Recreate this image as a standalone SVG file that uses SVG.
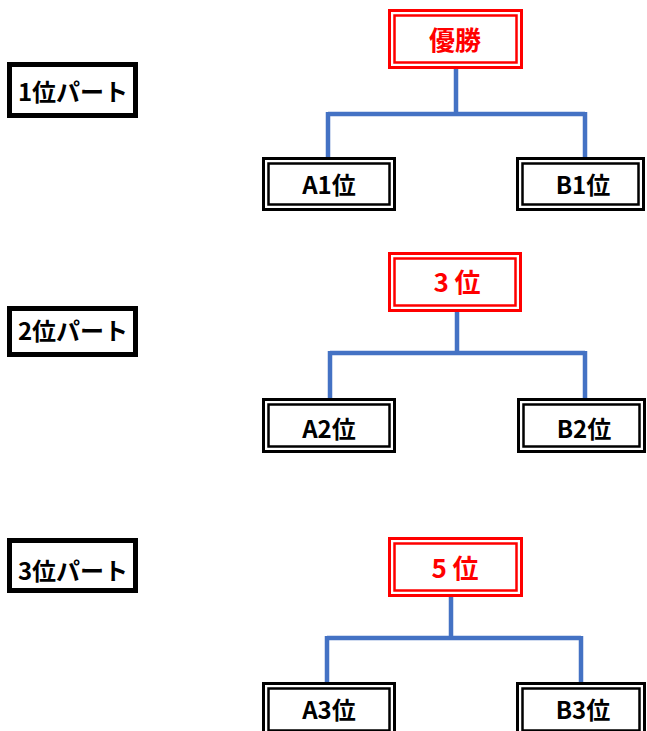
<svg xmlns="http://www.w3.org/2000/svg" width="647" height="731" viewBox="0 0 647 731">
<style>
text{font-family:"Noto Sans CJK JP","Noto Sans",sans-serif;font-weight:bold;text-anchor:middle}
.lbl rect{fill:#fff;stroke:#000;stroke-width:5}
.lbl text{font-size:24px;fill:#000}
.red rect{fill:none;stroke:#ff0000}
.red .o{stroke-width:3;fill:#fff}
.red .i{stroke-width:2.5}
.red text{font-size:26px;fill:#ff0000}
.blk rect{fill:none;stroke:#000}
.blk .o{stroke-width:3;fill:#fff}
.blk .i{stroke-width:2.5}
.blk text{font-size:24px;fill:#000}
#connectors path{fill:none;stroke:#4472c4;stroke-width:4.5}
</style>
<rect width="647" height="731" fill="#fff"/>
<g id="connectors">
<path d="M456,69 V114 M328,114 H585 M328,112 V157 M585,112 V157"/>
<path d="M457,312 V353 M330,353 H585 M330,351 V398 M585,351 V398"/>
<path d="M451,597 V638 M327,638 H581 M327,636 V682 M581,636 V682"/>
</g>
<g id="label1" class="lbl"><rect x="9.5" y="64.5" width="126" height="51"/><text x="73" y="101">1位パート</text></g>
<g id="label2" class="lbl"><rect x="9.5" y="308.5" width="126" height="46"/><text x="73" y="340">2位パート</text></g>
<g id="label3" class="lbl"><rect x="9.5" y="540.5" width="126" height="50"/><text x="73" y="580">3位パート</text></g>

<g id="win1" class="red"><rect class="o" x="389.5" y="10.5" width="132" height="57"/><rect class="i" x="394.5" y="15.5" width="122" height="47"/><text x="455" y="50">優勝</text></g>
<g id="win2" class="red"><rect class="o" x="389.5" y="253.5" width="131" height="57"/><rect class="i" x="394.5" y="258.5" width="121" height="47"/><text x="457" y="292" xml:space="preserve">3 位</text></g>
<g id="win3" class="red"><rect class="o" x="389.5" y="538.5" width="132" height="57"/><rect class="i" x="394.5" y="543.5" width="122" height="47"/><text x="455" y="578" xml:space="preserve">5 位</text></g>

<g id="a1" class="blk"><rect class="o" x="263.5" y="158.5" width="131" height="51"/><rect class="i" x="268.5" y="163.5" width="121" height="41"/><text x="329" y="194">A1位</text></g>
<g id="b1" class="blk"><rect class="o" x="517.5" y="158.5" width="126" height="51"/><rect class="i" x="522.5" y="163.5" width="116" height="41"/><text x="583" y="194">B1位</text></g>
<g id="a2" class="blk"><rect class="o" x="263.5" y="399.5" width="131" height="52"/><rect class="i" x="268.5" y="404.5" width="121" height="42"/><text x="329" y="438">A2位</text></g>
<g id="b2" class="blk"><rect class="o" x="518.5" y="399.5" width="126" height="52"/><rect class="i" x="523.5" y="404.5" width="116" height="42"/><text x="584" y="438">B2位</text></g>
<g id="a3" class="blk"><rect class="o" x="263.5" y="683.5" width="131" height="52"/><rect class="i" x="268.5" y="688.5" width="121" height="42"/><text x="329" y="719">A3位</text></g>
<g id="b3" class="blk"><rect class="o" x="517.5" y="683.5" width="127" height="52"/><rect class="i" x="522.5" y="688.5" width="117" height="42"/><text x="583" y="719">B3位</text></g>
</svg>
